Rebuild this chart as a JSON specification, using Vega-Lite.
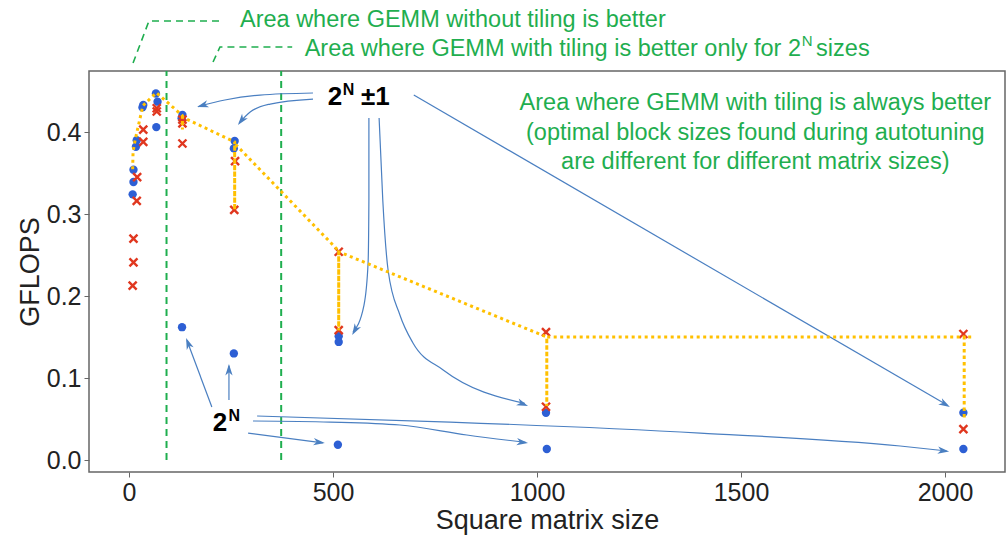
{
  "$schema": "https://vega.github.io/schema/vega-lite/v6.json",
  "width": 916,
  "height": 401,
  "autosize": {"type": "none"},
  "padding": {"left": 89, "top": 71, "right": 1, "bottom": 64},
  "background": "white",
  "config": {
    "font": "Liberation Sans",
    "view": {"stroke": "#666666", "strokeWidth": 1.5},
    "axis": {
      "grid": false,
      "domain": false,
      "labelFont": "Liberation Sans",
      "titleFont": "Liberation Sans",
      "labelFontSize": 25,
      "titleFontSize": 27,
      "labelColor": "#222222",
      "titleColor": "#222222",
      "titleFontWeight": "normal",
      "tickColor": "#666666",
      "tickSize": 5
    }
  },
  "datasets": {
    "pts": [
      {"size": 66, "gflops": 0.447, "kind": "without tiling"},
      {"size": 70, "gflops": 0.437, "kind": "without tiling"},
      {"size": 67, "gflops": 0.406, "kind": "without tiling"},
      {"size": 35, "gflops": 0.433, "kind": "without tiling"},
      {"size": 33, "gflops": 0.430, "kind": "without tiling"},
      {"size": 19, "gflops": 0.390, "kind": "without tiling"},
      {"size": 17, "gflops": 0.382, "kind": "without tiling"},
      {"size": 11, "gflops": 0.354, "kind": "without tiling"},
      {"size": 11, "gflops": 0.339, "kind": "without tiling"},
      {"size": 9, "gflops": 0.324, "kind": "without tiling"},
      {"size": 131, "gflops": 0.4207, "kind": "without tiling"},
      {"size": 129, "gflops": 0.4167, "kind": "without tiling"},
      {"size": 130, "gflops": 0.162, "kind": "without tiling"},
      {"size": 259, "gflops": 0.389, "kind": "without tiling"},
      {"size": 257, "gflops": 0.380, "kind": "without tiling"},
      {"size": 257, "gflops": 0.130, "kind": "without tiling"},
      {"size": 514, "gflops": 0.151, "kind": "without tiling"},
      {"size": 514, "gflops": 0.144, "kind": "without tiling"},
      {"size": 512, "gflops": 0.0187, "kind": "without tiling"},
      {"size": 1022, "gflops": 0.0577, "kind": "without tiling"},
      {"size": 1024, "gflops": 0.0134, "kind": "without tiling"},
      {"size": 2045, "gflops": 0.0577, "kind": "without tiling"},
      {"size": 2045, "gflops": 0.0134, "kind": "without tiling"},
      {"size": 68, "gflops": 0.429, "kind": "with tiling"},
      {"size": 68, "gflops": 0.425, "kind": "with tiling"},
      {"size": 35, "gflops": 0.403, "kind": "with tiling"},
      {"size": 35, "gflops": 0.388, "kind": "with tiling"},
      {"size": 20, "gflops": 0.345, "kind": "with tiling"},
      {"size": 19, "gflops": 0.316, "kind": "with tiling"},
      {"size": 11, "gflops": 0.270, "kind": "with tiling"},
      {"size": 11, "gflops": 0.241, "kind": "with tiling"},
      {"size": 9, "gflops": 0.2126, "kind": "with tiling"},
      {"size": 131, "gflops": 0.4106, "kind": "with tiling"},
      {"size": 131, "gflops": 0.415, "kind": "with tiling"},
      {"size": 131, "gflops": 0.386, "kind": "with tiling"},
      {"size": 260, "gflops": 0.3646, "kind": "with tiling"},
      {"size": 258, "gflops": 0.305, "kind": "with tiling"},
      {"size": 514, "gflops": 0.254, "kind": "with tiling"},
      {"size": 514, "gflops": 0.1585, "kind": "with tiling"},
      {"size": 1022, "gflops": 0.156, "kind": "with tiling"},
      {"size": 1022, "gflops": 0.065, "kind": "with tiling"},
      {"size": 2045, "gflops": 0.1537, "kind": "with tiling"},
      {"size": 2045, "gflops": 0.0378, "kind": "with tiling"}
    ],
    "best": [
      {"ord": 1, "size": 9, "gflops": 0.3545},
      {"ord": 2, "size": 10, "gflops": 0.376},
      {"ord": 3, "size": 15, "gflops": 0.390},
      {"ord": 4, "size": 34, "gflops": 0.432},
      {"ord": 5, "size": 67, "gflops": 0.448},
      {"ord": 6, "size": 131, "gflops": 0.420},
      {"ord": 7, "size": 131, "gflops": 0.403},
      {"ord": 8, "size": 131, "gflops": 0.418},
      {"ord": 9, "size": 259, "gflops": 0.388},
      {"ord": 10, "size": 259, "gflops": 0.305},
      {"ord": 11, "size": 259, "gflops": 0.386},
      {"ord": 12, "size": 514, "gflops": 0.255},
      {"ord": 13, "size": 514, "gflops": 0.158},
      {"ord": 14, "size": 514, "gflops": 0.254},
      {"ord": 15, "size": 1024, "gflops": 0.150},
      {"ord": 16, "size": 1024, "gflops": 0.066},
      {"ord": 17, "size": 1024, "gflops": 0.150},
      {"ord": 18, "size": 2047, "gflops": 0.150},
      {"ord": 19, "size": 2047, "gflops": 0.050},
      {"ord": 20, "size": 2047, "gflops": 0.150},
      {"ord": 21, "size": 2068, "gflops": 0.150}
    ],
    "arrows": [
      {"id": "a1", "ord": 1, "size": 451, "gflops": 0.4476},
      {"id": "a1", "ord": 2, "size": 321, "gflops": 0.4451},
      {"id": "a1", "ord": 3, "size": 235, "gflops": 0.4390},
      {"id": "a1", "ord": 4, "size": 170, "gflops": 0.4310},
      {"id": "a2", "ord": 1, "size": 451, "gflops": 0.4402},
      {"id": "a2", "ord": 2, "size": 346, "gflops": 0.4341},
      {"id": "a2", "ord": 3, "size": 297, "gflops": 0.4244},
      {"id": "a2", "ord": 4, "size": 270, "gflops": 0.4110},
      {"id": "a3", "ord": 1, "size": 588, "gflops": 0.4171},
      {"id": "a3", "ord": 2, "size": 588, "gflops": 0.3171},
      {"id": "a3", "ord": 3, "size": 586, "gflops": 0.2402},
      {"id": "a3", "ord": 4, "size": 576, "gflops": 0.1890},
      {"id": "a3", "ord": 5, "size": 549, "gflops": 0.1560},
      {"id": "a4", "ord": 1, "size": 613, "gflops": 0.4171},
      {"id": "a4", "ord": 2, "size": 622, "gflops": 0.3171},
      {"id": "a4", "ord": 3, "size": 635, "gflops": 0.2317},
      {"id": "a4", "ord": 4, "size": 664, "gflops": 0.1768},
      {"id": "a4", "ord": 5, "size": 696, "gflops": 0.1427},
      {"id": "a4", "ord": 6, "size": 770, "gflops": 0.1098},
      {"id": "a4", "ord": 7, "size": 970, "gflops": 0.0690},
      {"id": "a5", "ord": 1, "size": 698, "gflops": 0.4451},
      {"id": "a5", "ord": 2, "size": 2005, "gflops": 0.0670},
      {"id": "b1", "ord": 1, "size": 203, "gflops": 0.0646},
      {"id": "b1", "ord": 2, "size": 142, "gflops": 0.1460},
      {"id": "b2", "ord": 1, "size": 245, "gflops": 0.0732},
      {"id": "b2", "ord": 2, "size": 245, "gflops": 0.1150},
      {"id": "b3", "ord": 1, "size": 292, "gflops": 0.0329},
      {"id": "b3", "ord": 2, "size": 475, "gflops": 0.0210},
      {"id": "b4", "ord": 1, "size": 304, "gflops": 0.0476},
      {"id": "b4", "ord": 2, "size": 493, "gflops": 0.0463},
      {"id": "b4", "ord": 3, "size": 664, "gflops": 0.0427},
      {"id": "b4", "ord": 4, "size": 828, "gflops": 0.0305},
      {"id": "b4", "ord": 5, "size": 972, "gflops": 0.0215},
      {"id": "b5", "ord": 1, "size": 314, "gflops": 0.0537},
      {"id": "b5", "ord": 2, "size": 787, "gflops": 0.0463},
      {"id": "b5", "ord": 3, "size": 1400, "gflops": 0.0329},
      {"id": "b5", "ord": 4, "size": 1890, "gflops": 0.0171},
      {"id": "b5", "ord": 5, "size": 2004, "gflops": 0.0110}
    ],
    "heads": [
      {"size": 167, "gflops": 0.4305, "heading": 163},
      {"size": 267, "gflops": 0.4085, "heading": 128},
      {"size": 547, "gflops": 0.1524, "heading": 120},
      {"size": 978, "gflops": 0.0659, "heading": 21},
      {"size": 2012, "gflops": 0.0646, "heading": 30},
      {"size": 140, "gflops": 0.1488, "heading": 249},
      {"size": 245, "gflops": 0.1171, "heading": 270},
      {"size": 480, "gflops": 0.0207, "heading": 7},
      {"size": 978, "gflops": 0.0207, "heading": 7},
      {"size": 2010, "gflops": 0.0104, "heading": 7}
    ],
    "bounds": [
      {"size": 92},
      {"size": 373}
    ],
    "leaders": [
      {"id": "l1", "ord": 1, "size": 10, "gflops": 0.4841},
      {"id": "l1", "ord": 2, "size": 49, "gflops": 0.5354},
      {"id": "l1", "ord": 3, "size": 223, "gflops": 0.5354},
      {"id": "l2", "ord": 1, "size": 206, "gflops": 0.4854},
      {"id": "l2", "ord": 2, "size": 223, "gflops": 0.5037},
      {"id": "l2", "ord": 3, "size": 400, "gflops": 0.5037}
    ]
  },
  "layer": [
    {
      "data": {"name": "bounds"},
      "mark": {"type": "rule", "color": "#1fae4f", "strokeWidth": 2, "strokeDash": [7, 5]},
      "encoding": {
        "x": {"field": "size", "type": "quantitative", "scale": {"domain": [-98, 2147], "nice": false, "zero": false},
          "axis": {"title": "Square matrix size", "values": [0, 500, 1000, 1500, 2000], "format": "d", "titlePadding": 2, "labelPadding": 3}},
        "y": {"datum": 0, "type": "quantitative"},
        "y2": {"datum": 0.4744}
      }
    },
    {
      "data": {"name": "leaders"},
      "mark": {"type": "line", "color": "#1fae4f", "strokeWidth": 1.6, "strokeDash": [7, 5], "clip": false},
      "encoding": {
        "x": {"field": "size", "type": "quantitative"},
        "y": {"field": "gflops", "type": "quantitative"},
        "detail": {"field": "id"},
        "order": {"field": "ord"}
      }
    },
    {
      "data": {"name": "arrows"},
      "mark": {"type": "line", "color": "#4a7fc1", "strokeWidth": 1.2, "interpolate": "monotone"},
      "encoding": {
        "x": {"field": "size", "type": "quantitative"},
        "y": {"field": "gflops", "type": "quantitative"},
        "detail": {"field": "id"},
        "order": {"field": "ord"}
      }
    },
    {
      "data": {"name": "heads"},
      "mark": {"type": "point", "shape": "M0,0L-1,-0.32L-0.72,0L-1,0.32Z", "filled": true, "color": "#4a7fc1", "opacity": 1, "size": 520},
      "encoding": {
        "x": {"field": "size", "type": "quantitative"},
        "y": {"field": "gflops", "type": "quantitative"},
        "angle": {"field": "heading", "type": "quantitative", "scale": null}
      }
    },
    {
      "data": {"name": "pts"},
      "transform": [{"filter": "datum.kind == 'without tiling'"}],
      "mark": {"type": "point", "shape": "circle", "filled": true, "color": "#2d5fd4", "opacity": 1, "size": 70},
      "encoding": {
        "x": {"field": "size", "type": "quantitative"},
        "y": {"field": "gflops", "type": "quantitative",
          "scale": {"domain": [-0.0146, 0.4744], "nice": false, "zero": false},
          "axis": {"title": "GFLOPS", "values": [0, 0.1, 0.2, 0.3, 0.4], "format": ".1f", "titlePadding": 2, "labelPadding": 3}}
      }
    },
    {
      "data": {"name": "pts"},
      "transform": [{"filter": "datum.kind == 'with tiling'"}],
      "mark": {"type": "point", "shape": "M-1,-1L1,1M1,-1L-1,1", "filled": false, "color": "#e0371f", "strokeWidth": 2.4, "opacity": 1, "size": 64},
      "encoding": {
        "x": {"field": "size", "type": "quantitative"},
        "y": {"field": "gflops", "type": "quantitative"}
      }
    },
    {
      "data": {"name": "best"},
      "mark": {"type": "line", "color": "#ffc000", "strokeWidth": 3, "strokeDash": [3, 3.5]},
      "encoding": {
        "x": {"field": "size", "type": "quantitative"},
        "y": {"field": "gflops", "type": "quantitative"},
        "order": {"field": "ord"}
      }
    },
    {
      "data": {"values": [
        {"size": 272, "gflops": 0.5366, "label": "Area where GEMM without tiling is better"},
        {"size": 1684, "gflops": 0.5012, "label": "sizes"}
      ]},
      "mark": {"type": "text", "align": "left", "baseline": "middle", "fontSize": 23.5, "color": "#1fae4f", "clip": false},
      "encoding": {
        "x": {"field": "size", "type": "quantitative"},
        "y": {"field": "gflops", "type": "quantitative"},
        "text": {"field": "label"}
      }
    },
    {
      "data": {"values": [
        {"size": 1647, "gflops": 0.5012, "label": "Area where GEMM with tiling is better only for 2"}
      ]},
      "mark": {"type": "text", "align": "right", "baseline": "middle", "fontSize": 23.5, "color": "#1fae4f", "clip": false},
      "encoding": {
        "x": {"field": "size", "type": "quantitative"},
        "y": {"field": "gflops", "type": "quantitative"},
        "text": {"field": "label"}
      }
    },
    {
      "data": {"values": [
        {"size": 1649, "gflops": 0.5110, "label": "N"}
      ]},
      "mark": {"type": "text", "align": "left", "baseline": "middle", "fontSize": 15, "color": "#1fae4f", "clip": false},
      "encoding": {
        "x": {"field": "size", "type": "quantitative"},
        "y": {"field": "gflops", "type": "quantitative"},
        "text": {"field": "label"}
      }
    },
    {
      "data": {"values": [
        {"size": 1535, "gflops": 0.4354, "label": "Area where GEMM with tiling is always better"},
        {"size": 1535, "gflops": 0.3988, "label": "(optimal block sizes found during autotuning"},
        {"size": 1535, "gflops": 0.3634, "label": "are different for different matrix sizes)"}
      ]},
      "mark": {"type": "text", "align": "center", "baseline": "middle", "fontSize": 23.5, "color": "#1fae4f"},
      "encoding": {
        "x": {"field": "size", "type": "quantitative"},
        "y": {"field": "gflops", "type": "quantitative"},
        "text": {"field": "label"}
      }
    },
    {
      "data": {"values": [
        {"size": 505, "gflops": 0.4427, "label": "2"},
        {"size": 604, "gflops": 0.4427, "label": "±1"},
        {"size": 223, "gflops": 0.0451, "label": "2"}
      ]},
      "mark": {"type": "text", "align": "center", "baseline": "middle", "fontSize": 26, "fontWeight": "bold", "color": "#000000"},
      "encoding": {
        "x": {"field": "size", "type": "quantitative"},
        "y": {"field": "gflops", "type": "quantitative"},
        "text": {"field": "label"}
      }
    },
    {
      "data": {"values": [
        {"size": 538, "gflops": 0.4510, "label": "N"},
        {"size": 258, "gflops": 0.0535, "label": "N"}
      ]},
      "mark": {"type": "text", "align": "center", "baseline": "middle", "fontSize": 16, "fontWeight": "bold", "color": "#000000"},
      "encoding": {
        "x": {"field": "size", "type": "quantitative"},
        "y": {"field": "gflops", "type": "quantitative"},
        "text": {"field": "label"}
      }
    }
  ]
}
